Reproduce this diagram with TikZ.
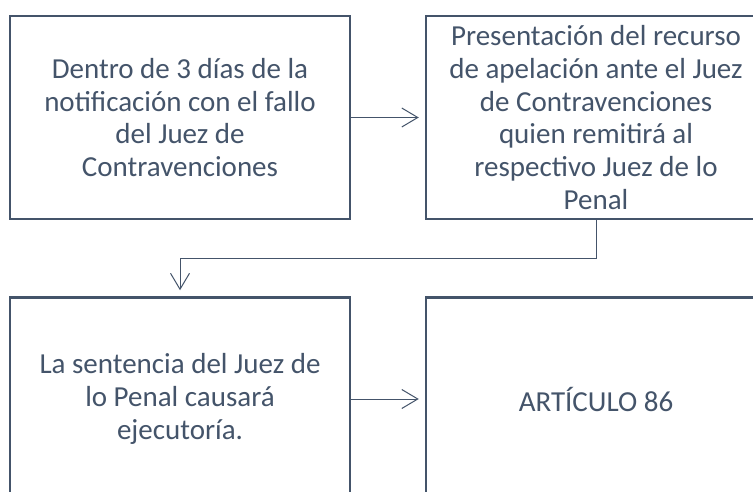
\documentclass[tikz,border=0pt]{standalone}
\usepackage{fontspec}
\setmainfont{Carlito}
\usetikzlibrary{arrows.meta}
\definecolor{slate}{HTML}{44546A}
\tikzset{
  box/.style={draw=slate, line width=2.5pt, fill=white, rectangle,
    minimum width=340pt, minimum height=203pt, align=center,
    text=slate, font=\fontsize{29pt}{32.8pt}\selectfont, inner sep=0pt},
  conn/.style={draw=slate, line width=1pt,
    -{Straight Barb[length=16pt,width=19pt,line width=1pt]}, shorten >=6pt}
}
\begin{document}
\begin{tikzpicture}[x=1pt,y=-1pt]
\useasboundingbox (0,0) rectangle (753,492);
\clip (0,0) rectangle (753,492);
\fill[white] (0,0) rectangle (753,492);
\node[box] (A) at (180,117.5) {Dentro de 3 días de la\\notificación con el fallo\\del Juez de\\Contravenciones};
\node[box] (B) at (596,117.5) {Presentación del recurso\\de apelación ante el Juez\\de Contravenciones\\quien remitirá al\\respectivo Juez de lo\\Penal};
\node[box] (C) at (180,399) {La sentencia del Juez de\\lo Penal causará\\ejecutoría.};
\node[box] (D) at (596,399) {ARTÍCULO 86};
\coordinate (m) at (0,258);
\draw[conn] (A.east) -- (B.west);
\draw[conn] (B.south) -- (B.south |- m) -| (C.north);
\draw[conn] (C.east) -- (D.west);
\end{tikzpicture}
\end{document}
